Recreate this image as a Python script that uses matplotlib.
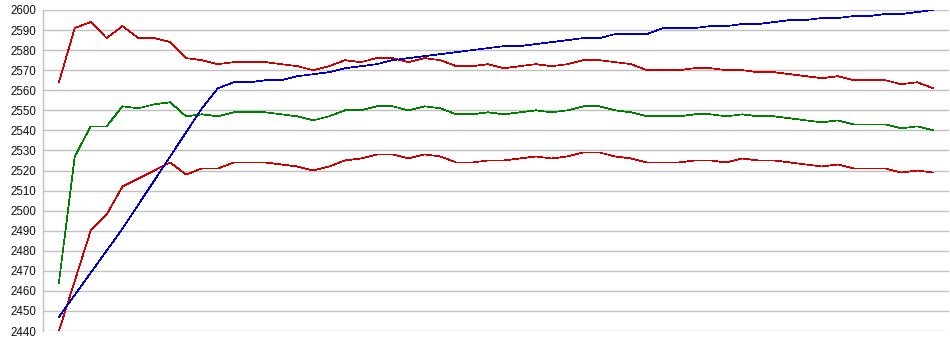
#!/usr/bin/env python
# -*- coding: utf-8 -*-

"""
Four series line chart, 2440-2600 scale, no x labels.
"""

# Third party modules.
import matplotlib
matplotlib.use("Agg")
import matplotlib.pyplot as plt

# Globals and constants variables.
upper_red = [2564, 2591, 2594, 2586, 2592, 2586, 2586, 2584, 2576, 2575,
             2573, 2574, 2574, 2574, 2573, 2572, 2570, 2572, 2575, 2574,
             2576, 2576, 2574, 2576, 2575, 2572, 2572, 2573, 2571, 2572,
             2573, 2572, 2573, 2575, 2575, 2574, 2573, 2570, 2570, 2570,
             2571, 2571, 2570, 2570, 2569, 2569, 2568, 2567, 2566, 2567,
             2565, 2565, 2565, 2563, 2564, 2561]
green = [2464, 2527, 2542, 2542, 2552, 2551, 2553, 2554, 2547, 2548,
         2547, 2549, 2549, 2549, 2548, 2547, 2545, 2547, 2550, 2550,
         2552, 2552, 2550, 2552, 2551, 2548, 2548, 2549, 2548, 2549,
         2550, 2549, 2550, 2552, 2552, 2550, 2549, 2547, 2547, 2547,
         2548, 2548, 2547, 2548, 2547, 2547, 2546, 2545, 2544, 2545,
         2543, 2543, 2543, 2541, 2542, 2540]
lower_red = [2440, 2465, 2490, 2498, 2512, 2516, 2520, 2524, 2518, 2521,
             2521, 2524, 2524, 2524, 2523, 2522, 2520, 2522, 2525, 2526,
             2528, 2528, 2526, 2528, 2527, 2524, 2524, 2525, 2525, 2526,
             2527, 2526, 2527, 2529, 2529, 2527, 2526, 2524, 2524, 2524,
             2525, 2525, 2524, 2526, 2525, 2525, 2524, 2523, 2522, 2523,
             2521, 2521, 2521, 2519, 2520, 2519]
blue = [2447, 2458, 2469, 2480, 2491, 2503, 2515, 2527, 2539, 2551,
        2561, 2564, 2564, 2565, 2565, 2567, 2568, 2569, 2571, 2572,
        2573, 2575, 2576, 2577, 2578, 2579, 2580, 2581, 2582, 2582,
        2583, 2584, 2585, 2586, 2586, 2588, 2588, 2588, 2591, 2591,
        2591, 2592, 2592, 2593, 2593, 2594, 2595, 2595, 2596, 2596,
        2597, 2597, 2598, 2598, 2599, 2600]
y_ticks = list(range(2440, 2601, 10))


def draw_chart():
    plt.rcParams["font.family"] = ["Liberation Sans", "DejaVu Sans"]
    fig = plt.figure(figsize=(9.5, 3.55), dpi=100)
    ax = fig.add_axes([43 / 950, 1 - 331 / 355, 906 / 950, 321 / 355])

    x = list(range(len(blue)))
    series = [(upper_red, "#cc0000"), (green, "#008000"),
              (lower_red, "#cc0000"), (blue, "#0000cc")]
    for values, color in series:
        ax.plot(x, values, color=color, linewidth=0.5, antialiased=False, zorder=3)

    ax.set_xlim(-1, 56)
    ax.set_ylim(2440, 2600)
    ax.set_yticks(y_ticks)
    ax.set_xticks([])
    ax.grid(axis="y", color="#c0c0c0", linewidth=1.0)
    ax.set_axisbelow(True)
    for side in ("top", "right", "bottom"):
        ax.spines[side].set_visible(False)
    ax.spines["left"].set_color("#c0c0c0")
    ax.spines["left"].set_linewidth(1.0)
    ax.tick_params(axis="y", length=0, pad=5, labelsize=8.3, labelcolor="#111111")

    fig.savefig("out.png", dpi=100)


if __name__ == "__main__":
    draw_chart()
